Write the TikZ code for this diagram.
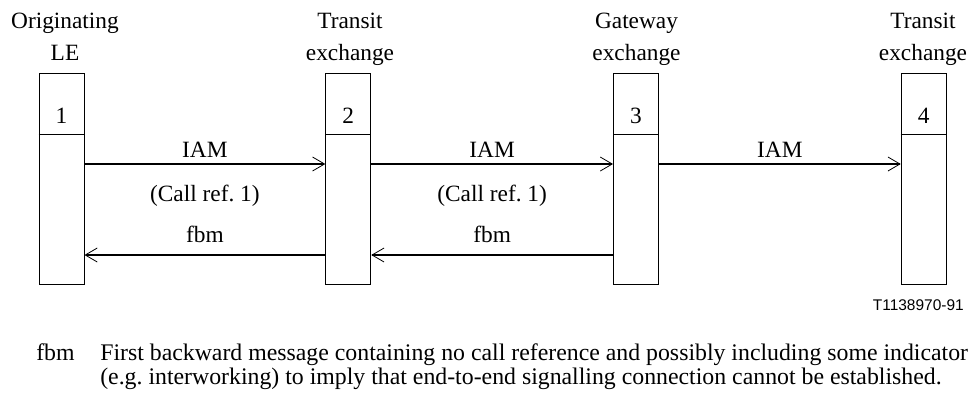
\documentclass[tikz,border=0pt]{standalone}
\usepackage{fontspec}
\setmainfont{Liberation Serif}
\newfontfamily\figfont{Liberation Sans}
\usetikzlibrary{arrows.meta}

\begin{document}
\begin{tikzpicture}[x=0.75pt, y=-0.75pt,
	font=\fontsize{17.5}{24}\selectfont,
	head/.style={rectangle, draw, line width=0.7pt, minimum width=33.75pt, minimum height=45.75pt, inner sep=0pt, text height=29.25pt, text depth=0pt},
	body/.style={rectangle, draw, line width=0.7pt, minimum width=33.75pt, minimum height=112.5pt, inner sep=0pt},
	title/.style={align=center, inner sep=0pt, text depth=0pt, anchor=south},
	msg/.style={line width=1.1pt, -{Straight Barb[length=9pt, width=10.5pt, line width=0.6pt]}},
	msglbl/.style={inner sep=0pt, text depth=0pt, above=4pt},
	callref/.style={inner sep=0pt, anchor=base, yshift=-27.75pt},
	note/.style={anchor=base west, inner sep=0pt, font=\fontsize{17.85}{21}\selectfont}]
	\useasboundingbox (0,0) rectangle (970,401);
	% exchanges
	\node [title] (t1) at (65,61) {Originating\\LE};
	\node [title] (t2) at (350,61) {Transit\\exchange};
	\node [title] (t3) at (636.5,61) {Gateway\\exchange};
	\node [title] (t4) at (923,61) {Transit\\exchange};
	\node [head] (h1) at (61.5,103.5) {1};
	\node [head] (h2) at (348.3,103.5) {2};
	\node [head] (h3) at (636,103.5) {3};
	\node [head] (h4) at (923.7,103.5) {4};
	\node [body] (b1) at (61.5,209) {};
	\node [body] (b2) at (348.3,209) {};
	\node [body] (b3) at (636,209) {};
	\node [body] (b4) at (923.7,209) {};
	\foreach \n in {1,2,3,4}
	\draw [line width=1.2pt] (h\n.south west) -- (h\n.south east);
	% messages
	\coordinate (iam) at (0,164);
	\coordinate (fbm) at (0,255);
	\draw [msg] (b1.east |- iam) -- (b2.west |- iam) node [msglbl, midway] {IAM} node [callref, midway] {(Call ref.~1)};
	\draw [msg] (b2.east |- iam) -- (b3.west |- iam) node [msglbl, midway] {IAM} node [callref, midway] {(Call ref.~1)};
	\draw [msg] (b3.east |- iam) -- (b4.west |- iam) node [msglbl, midway] {IAM};
	\foreach \from/\to in {b2/b1, b3/b2}
	\draw [msg] (\from.west |- fbm) -- (\to.east |- fbm) node [msglbl, midway, above=5pt] {fbm};
	% key
	\node [anchor=base east, inner sep=0pt, font=\figfont\fontsize{11.6}{14}\selectfont] (code) at (964,310) {T1138970-91};
	\node [note] (abbr) at (36,360) {fbm};
	\node [note] (def1) at (100,360) {First backward message containing no call reference and possibly including some indicator};
	\node [note] (def2) at (100,384) {(e.g.\ interworking) to imply that end-to-end signalling connection cannot be established.};
\end{tikzpicture}
\end{document}
